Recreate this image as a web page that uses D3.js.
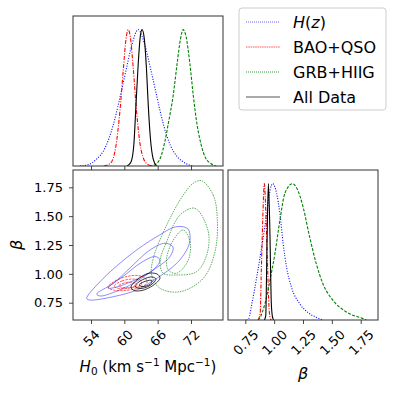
<!DOCTYPE html>
<html>
<head>
<meta charset="utf-8">
<script src="https://cdn.jsdelivr.net/npm/d3@7"></script>
<style>
  body { margin: 0; background: #fff; }
  svg { font-family: "DejaVu Sans", sans-serif; }
</style>
</head>
<body>
<svg id="corner" width="395" height="396"></svg>
<script>
// ---- data ----
const seriesNames = ["H(z)", "BAO+QSO", "GRB+HIIG", "All Data"];
const h0Ticks   = [54, 60, 66, 72];
const betaTicks = [0.75, 1.00, 1.25, 1.50, 1.75];

// 1D marginals of H0: [H0, normalised density]
const h0Hz  = [[52,0],[53.5,0.01],[55,0.05],[56.5,0.13],[58,0.3],[59.2,0.5],[60.3,0.7],[61.3,0.88],[62.5,1.0],[63.6,0.9],[64.8,0.7],[65.9,0.5],[67,0.31],[68.3,0.15],[69.5,0.07],[71,0.02],[72.5,0]];
const h0Bao = [[56.3,0],[57.5,0.02],[58.5,0.15],[59.2,0.4],[59.8,0.7],[60.3,0.93],[60.7,1.0],[61.1,0.94],[61.6,0.72],[62.2,0.4],[62.8,0.17],[63.5,0.05],[64.3,0.01],[65,0]];
const h0Grb = [[64.5,0],[65.5,0.01],[66.5,0.06],[67.3,0.18],[68.0,0.33],[68.8,0.52],[69.5,0.75],[70.1,0.93],[70.6,1.0],[71.1,0.95],[71.8,0.75],[72.4,0.52],[73.1,0.3],[73.8,0.16],[74.6,0.06],[75.5,0.02],[76.5,0]];
const h0All = [[60.5,0],[61.2,0.03],[61.7,0.15],[62.1,0.45],[62.5,0.75],[62.9,0.96],[63.2,1.0],[63.6,0.93],[64.0,0.7],[64.3,0.45],[64.7,0.2],[65.2,0.05],[65.8,0]];

// 1D marginals of beta: [beta, normalised density]
const betaHz  = [[0.76,0],[0.779,0.01],[0.807,0.12],[0.85,0.32],[0.893,0.54],[0.936,0.78],[0.964,0.95],[0.987,1.0],[1.021,0.93],[1.05,0.78],[1.078,0.56],[1.107,0.39],[1.15,0.24],[1.221,0.12],[1.30,0.05],[1.364,0.02],[1.42,0]];
const betaBao = [[0.86,0],[0.879,0.05],[0.889,0.367],[0.901,0.733],[0.915,1.0],[0.93,0.733],[0.944,0.367],[0.955,0.1],[0.964,0.02],[0.975,0]];
const betaGrb = [[0.86,0],[0.873,0.012],[0.921,0.122],[0.964,0.293],[1.007,0.489],[1.05,0.733],[1.093,0.929],[1.159,1.0],[1.20,0.96],[1.25,0.831],[1.307,0.611],[1.364,0.416],[1.421,0.269],[1.507,0.147],[1.621,0.061],[1.764,0.012],[1.8,0]];
const betaAll = [[0.915,0],[0.927,0.03],[0.939,0.61],[0.95,1.0],[0.964,0.61],[0.974,0.15],[0.984,0.03],[0.995,0]];

// 2D contours (outer, middle, inner): [H0, beta]
const contHz = [
  [[53.23,0.786],[55.62,0.932],[61.02,1.163],[65.83,1.322],[69.42,1.409],[71.46,1.389],[71.82,1.293],[71.22,1.207],[69.42,1.091],[65.83,0.961],[62.23,0.860],[58.01,0.802],[53.82,0.773]],
  [[55.03,0.825],[58.01,0.918],[61.02,1.051],[64.62,1.207],[67.32,1.265],[68.76,1.233],[68.22,1.149],[65.21,1.033],[61.61,0.918],[58.01,0.838],[55.62,0.808]],
  [[57.06,0.877],[60.12,0.990],[62.82,1.091],[65.52,1.150],[66.42,1.120],[65.16,1.033],[61.92,0.947],[58.32,0.882]]
];
const contBao = [
  [[57.06,0.886],[58.32,0.938],[60.12,0.973],[62.28,0.986],[63.72,0.964],[64.08,0.921],[62.46,0.877],[60.12,0.856],[57.96,0.860]],
  [[58.14,0.895],[59.58,0.938],[61.56,0.955],[63.0,0.938],[63.0,0.903],[61.02,0.877],[59.04,0.873]],
  [[59.04,0.899],[60.30,0.925],[61.74,0.925],[62.28,0.903],[61.02,0.882],[59.58,0.882]]
];
const contGrb = [
  [[73.92,1.807],[76.0,1.683],[76.73,1.481],[76.32,1.192],[74.21,0.961],[70.02,0.845],[66.42,0.875],[64.93,0.990],[65.21,1.135],[67.62,1.423],[70.61,1.683],[72.41,1.785]],
  [[72.72,1.568],[75.11,1.365],[74.82,1.163],[73.02,1.019],[69.42,0.990],[67.01,1.005],[66.42,1.105],[67.62,1.279],[70.02,1.510]],
  [[70.61,1.380],[71.82,1.279],[71.51,1.120],[69.42,1.005],[67.91,1.033],[67.62,1.135],[68.81,1.293]]
];
const contAll = [
  [[61.2,0.886],[62.46,0.955],[64.26,1.003],[65.88,0.999],[66.42,0.964],[65.16,0.899],[63.18,0.856],[61.74,0.856]],
  [[61.92,0.895],[63.36,0.951],[64.98,0.973],[65.70,0.955],[64.62,0.899],[62.82,0.873]],
  [[62.64,0.903],[63.90,0.938],[64.98,0.942],[64.62,0.908],[63.36,0.890]]
];

// ---- styles ----
const styles = [
  { color: "#0000ff", dash1d: "1,1.6", dash2d: null,    op2d: 0.5, w1d: 1.1 },
  { color: "#ff0000", dash1d: "4,1.5,1,1.5", dash2d: "2.5,1", op2d: 0.7, w1d: 1.1 },
  { color: "#008000", dash1d: "3,1.5", dash2d: "1.5,1", op2d: 0.7, w1d: 1.1 },
  { color: "#000000", dash1d: null,    dash2d: null,    op2d: 0.85, w1d: 1.1 }
];
const h0Series   = [h0Hz, h0Bao, h0Grb, h0All];
const betaSeries = [betaHz, betaBao, betaGrb, betaAll];
const contSeries = [contHz, contBao, contGrb, contAll];

const svg = d3.select("#corner");
const P = 150;                 // panel size
const padLeft = 73, padTop = 16;
const gapX = 5, gapY = 4;
const tickFont = 13;

const xH0   = d3.scaleLinear().domain([50.76, 77.76]).range([0, P]);
const yBeta = d3.scaleLinear().domain([0.60, 1.90]).range([P, 0]);
const xBeta = d3.scaleLinear().domain([0.60, 1.90]).range([0, P]);
const yDens = d3.scaleLinear().domain([0, 1.1]).range([P, 0]);

// panels
const gTop = svg.append("g").attr("transform", `translate(${padLeft},${padTop})`);
const g2d  = svg.append("g").attr("transform", `translate(${padLeft},${padTop + P + gapY})`);
const gRt  = svg.append("g").attr("transform", `translate(${padLeft + P + gapX},${padTop + P + gapY})`);

const defs = svg.append("defs");
defs.append("clipPath").attr("id", "clipP")
  .append("rect").attr("width", P).attr("height", P);

// marginal of H0
const lineH0 = d3.line().x(d => xH0(d[0])).y(d => yDens(d[1])).curve(d3.curveMonotoneX);
const topPlot = gTop.append("g").attr("clip-path", "url(#clipP)");
h0Series.forEach((s, i) => {
  topPlot.append("path").datum(s)
    .attr("d", lineH0)
    .attr("fill", "none")
    .attr("stroke", styles[i].color)
    .attr("stroke-width", styles[i].w1d)
    .attr("stroke-dasharray", styles[i].dash1d);
});

// marginal of beta
const lineB = d3.line().x(d => xBeta(d[0])).y(d => yDens(d[1])).curve(d3.curveMonotoneX);
const rtPlot = gRt.append("g").attr("clip-path", "url(#clipP)");
betaSeries.forEach((s, i) => {
  rtPlot.append("path").datum(s)
    .attr("d", lineB)
    .attr("fill", "none")
    .attr("stroke", styles[i].color)
    .attr("stroke-width", styles[i].w1d)
    .attr("stroke-dasharray", styles[i].dash1d);
});

// 2D contours
const lineC = d3.line().x(d => xH0(d[0])).y(d => yBeta(d[1])).curve(d3.curveCatmullRomClosed.alpha(0.5));
const cPlot = g2d.append("g").attr("clip-path", "url(#clipP)");
contSeries.forEach((levels, i) => {
  levels.forEach(lv => {
    cPlot.append("path").datum(lv)
      .attr("d", lineC)
      .attr("fill", "none")
      .attr("stroke", styles[i].color)
      .attr("stroke-opacity", styles[i].op2d)
      .attr("stroke-width", 0.9)
      .attr("stroke-dasharray", styles[i].dash2d);
  });
});

// axes
function styleAxis(a) {
  a.attr("font-size", tickFont).attr("font-family", "DejaVu Sans, sans-serif");
  a.select(".domain").remove();
  a.selectAll(".tick line").attr("stroke", "#333").attr("stroke-width", 0.9);
  a.selectAll(".tick text").attr("fill", "#000");
}
function rotateLabels(a) {
  a.selectAll(".tick text")
    .attr("y", 0).attr("dy", null)
    .attr("text-anchor", "middle")
    .attr("dominant-baseline", "central")
    .attr("transform", function () {
      const L = this.getComputedTextLength();
      const off = 4 + 3 + (L + 15) * 0.3536;
      return `translate(0,${off}) rotate(-45)`;
    });
}

gTop.append("g").attr("transform", `translate(0,${P})`)
  .call(d3.axisBottom(xH0).tickValues(h0Ticks).tickFormat("").tickSize(4))
  .call(styleAxis);

g2d.append("g").attr("transform", `translate(0,${P})`)
  .call(d3.axisBottom(xH0).tickValues(h0Ticks).tickFormat(d3.format("d")).tickSize(4))
  .call(styleAxis).call(rotateLabels);

g2d.append("g")
  .call(d3.axisLeft(yBeta).tickValues(betaTicks).tickFormat(d3.format(".2f")).tickSize(4).tickPadding(6))
  .call(styleAxis);

gRt.append("g").attr("transform", `translate(0,${P})`)
  .call(d3.axisBottom(xBeta).tickValues(betaTicks).tickFormat(d3.format(".2f")).tickSize(4))
  .call(styleAxis).call(rotateLabels);

// panel frames
[gTop, g2d, gRt].forEach(g => {
  g.append("rect").attr("width", P).attr("height", P)
    .attr("fill", "none").attr("stroke", "#333").attr("stroke-width", 1);
});

// axis titles
const xl = svg.append("text")
  .attr("x", padLeft + P / 2).attr("y", 372)
  .attr("text-anchor", "middle")
  .attr("font-size", 15);
xl.append("tspan").attr("font-style", "italic").text("H");
xl.append("tspan").attr("font-size", 10.5).attr("dy", 3).text("0");
xl.append("tspan").attr("dy", -3).text(" (km s");
xl.append("tspan").attr("font-size", 10.5).attr("dy", -6).text("−1");
xl.append("tspan").attr("dy", 6).text(" Mpc");
xl.append("tspan").attr("font-size", 10.5).attr("dy", -6).text("−1");
xl.append("tspan").attr("dy", 6).text(")");

svg.append("text")
  .attr("transform", `translate(22,${padTop + P + gapY + P / 2}) rotate(-90)`)
  .attr("text-anchor", "middle")
  .attr("font-size", 16)
  .attr("font-style", "italic")
  .text("β");

svg.append("text")
  .attr("x", padLeft + P + gapX + P / 2).attr("y", 379)
  .attr("text-anchor", "middle")
  .attr("font-size", 16)
  .attr("font-style", "italic")
  .text("β");

// legend
const lg = svg.append("g").attr("transform", "translate(239,8)");
lg.append("rect")
  .attr("width", 147).attr("height", 102).attr("rx", 3)
  .attr("fill", "#fff").attr("fill-opacity", 0.8)
  .attr("stroke", "#ccc").attr("stroke-width", 1);
const legendLines = [
  { color: "#0000ff", dash: "1,1", w: 1, op: 0.6 },
  { color: "#ff0000", dash: "1.5,0.8", w: 2.2, op: 0.35 },
  { color: "#008000", dash: "1,1", w: 1, op: 0.8 },
  { color: "#000000", dash: null, w: 1.6, op: 0.45 }
];
seriesNames.forEach((name, i) => {
  const y = 14 + i * 25;
  lg.append("line")
    .attr("x1", 7).attr("x2", 41).attr("y1", y).attr("y2", y)
    .attr("stroke", legendLines[i].color)
    .attr("stroke-opacity", legendLines[i].op)
    .attr("stroke-width", legendLines[i].w)
    .attr("stroke-dasharray", legendLines[i].dash);
  const t = lg.append("text")
    .attr("x", 54).attr("y", y + 6)
    .attr("font-size", 16);
  if (i === 0) {
    t.append("tspan").attr("font-style", "italic").text("H");
    t.append("tspan").text("(");
    t.append("tspan").attr("font-style", "italic").text("z");
    t.append("tspan").text(")");
  } else {
    t.text(name);
  }
});
</script>
</body>
</html>
